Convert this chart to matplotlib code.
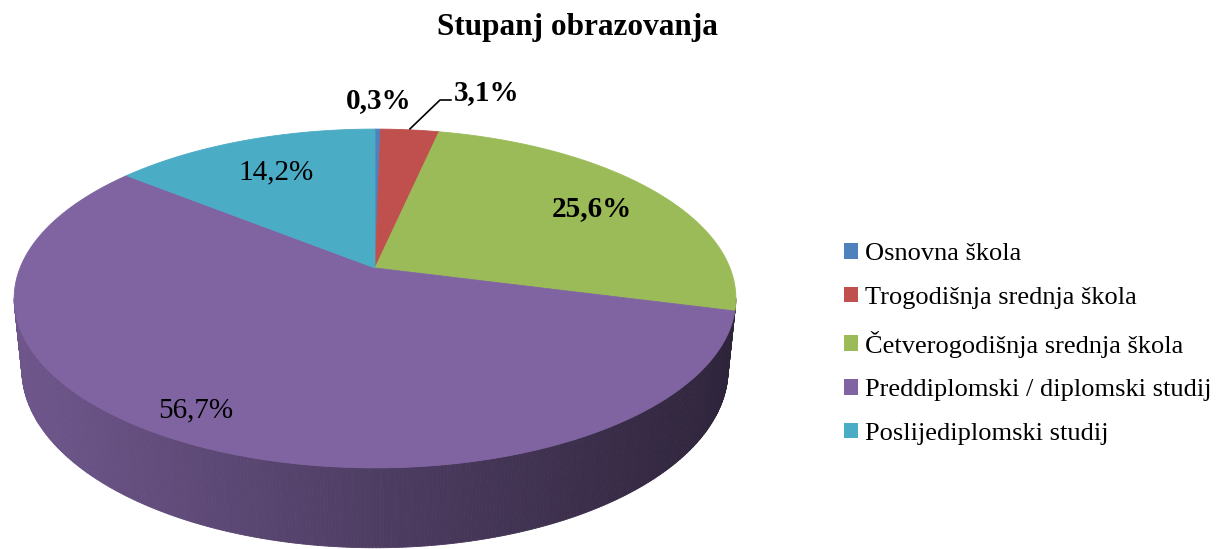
import numpy as np
import matplotlib
matplotlib.use("Agg")
import matplotlib.pyplot as plt
from matplotlib.patches import Polygon, Patch
from matplotlib.collections import PolyCollection
from matplotlib.colors import to_rgb

# ---------------- data ----------------
title = "Stupanj obrazovanja"
categories = ["Osnovna škola", "Trogodišnja srednja škola", "Četverogodišnja srednja škola",
              "Preddiplomski / diplomski studij", "Poslijediplomski studij"]
values = [0.3, 3.1, 25.6, 56.7, 14.2]
value_labels = ["0,3%", "3,1%", "25,6%", "56,7%", "14,2%"]
label_bold = [True, True, True, False, False]
colors = ["#4f81bd", "#c0504d", "#9bbb59", "#8064a2", "#4bacc6"]

# ---------------- layout / projection ----------------
W, H = 1216, 549
CX, CY = 375, 268          # screen position of pie centre
F, D = 1750.0, 4.93        # focal length, camera distance (radius = 1)
PHI = np.radians(27.5)     # elevation
HGT = 0.227                # pie thickness
START = 90.0

sp, cp = np.sin(PHI), np.cos(PHI)

def proj(t_deg, r=1.0, z=0.0):
    t = np.radians(t_deg)
    X = r * np.cos(t)
    Y = r * np.sin(t)
    depth = Y * cp - z * sp + D
    v = Y * sp + z * cp
    return CX + F * X / depth, CY - F * v / depth

fig = plt.figure(figsize=(W / 100, H / 100), dpi=100)
ax = fig.add_axes([0, 0, 1, 1])
ax.set_xlim(0, W)
ax.set_ylim(H, 0)
ax.axis("off")

total = sum(values)
angles = [START]
for v in values:
    angles.append(angles[-1] - v / total * 360.0)

# visible side range (front silhouette)
t_sil = np.degrees(np.arcsin(-cp / D))        # about -10.4
vis_lo, vis_hi = -180.0 - t_sil, t_sil           # -169.6 .. -10.4

def shade(col, x):
    f = np.interp(x, [20, 735], [0.86, 0.36])
    c = np.array(to_rgb(col)) * f
    return tuple(np.clip(c, 0, 1))

# ---- sides ----
for i, v in enumerate(values):
    a0, a1 = angles[i], angles[i + 1]     # a0 > a1
    for shift in (0, -360, 360):
        lo = max(a1 + shift, vis_lo)
        hi = min(a0 + shift, vis_hi)
        if hi > lo:
            ts = np.linspace(lo, hi, max(3, int((hi - lo) * 2)))
            polys, cols = [], []
            for k in range(len(ts) - 1):
                x1, y1 = proj(ts[k]); x2, y2 = proj(ts[k + 1])
                x3, y3 = proj(ts[k + 1], z=-HGT); x4, y4 = proj(ts[k], z=-HGT)
                polys.append([(x1, y1), (x2, y2), (x3, y3), (x4, y4)])
                cols.append(shade(colors[i], (x1 + x2) / 2))
            pc = PolyCollection(polys, facecolors=cols, edgecolors=cols, linewidths=0.6)
            ax.add_collection(pc)

# ---- top faces ----
for i, v in enumerate(values):
    a0, a1 = angles[i], angles[i + 1]
    ts = np.linspace(a0, a1, max(3, int(abs(a0 - a1) * 2)))
    pts = [proj(0, r=0.0)] + [proj(t) for t in ts]
    ax.add_patch(Polygon(pts, closed=True, facecolor=colors[i], edgecolor=colors[i], lw=0.6))

# ---- labels ----
mids = [(angles[i] + angles[i + 1]) / 2 for i in range(len(values))]
serif = "Liberation Serif"
fs_lab = 21

# inside labels: (radius fraction, angle offset)
inside = {2: (0.76, -1.0), 3: (0.87, -3.5), 4: (0.72, 0.0)}
for i, (r, dt) in inside.items():
    x, y = proj(mids[i] + dt, r=r)
    ax.text(x, y, value_labels[i], ha="center", va="center", fontsize=fs_lab,
            family=serif, fontweight="bold" if label_bold[i] else "normal")

# small slice 0: outside, no leader
x, y = proj(mids[0], r=1.26)
ax.text(x, y + 1, value_labels[0], ha="center", va="center", fontsize=fs_lab,
        family=serif, fontweight="bold")

# small slice 1: outside with leader
x0, y0 = proj(mids[1], r=1.0)
ax.plot([x0, 440, 451], [y0 - 1, 100, 100], color="black", lw=1.2)
ax.text(454, 93, value_labels[1], ha="left", va="center", fontsize=fs_lab,
        family=serif, fontweight="bold")

# title
ax.text(577, 28, title, ha="center", va="center", fontsize=22.5, family=serif,
        fontweight="bold")

# legend
handles = [Patch(facecolor=c, edgecolor="none") for c in colors]
leg = ax.legend(handles, categories, loc="upper left", bbox_to_anchor=(844 / W, 1 - 243 / H),
                frameon=False, prop={"family": serif, "size": 19},
                handlelength=0.53, handleheight=0.53, handletextpad=0.25,
                labelspacing=0.82, borderaxespad=0, borderpad=0)

fig.savefig("out.png", dpi=100)
